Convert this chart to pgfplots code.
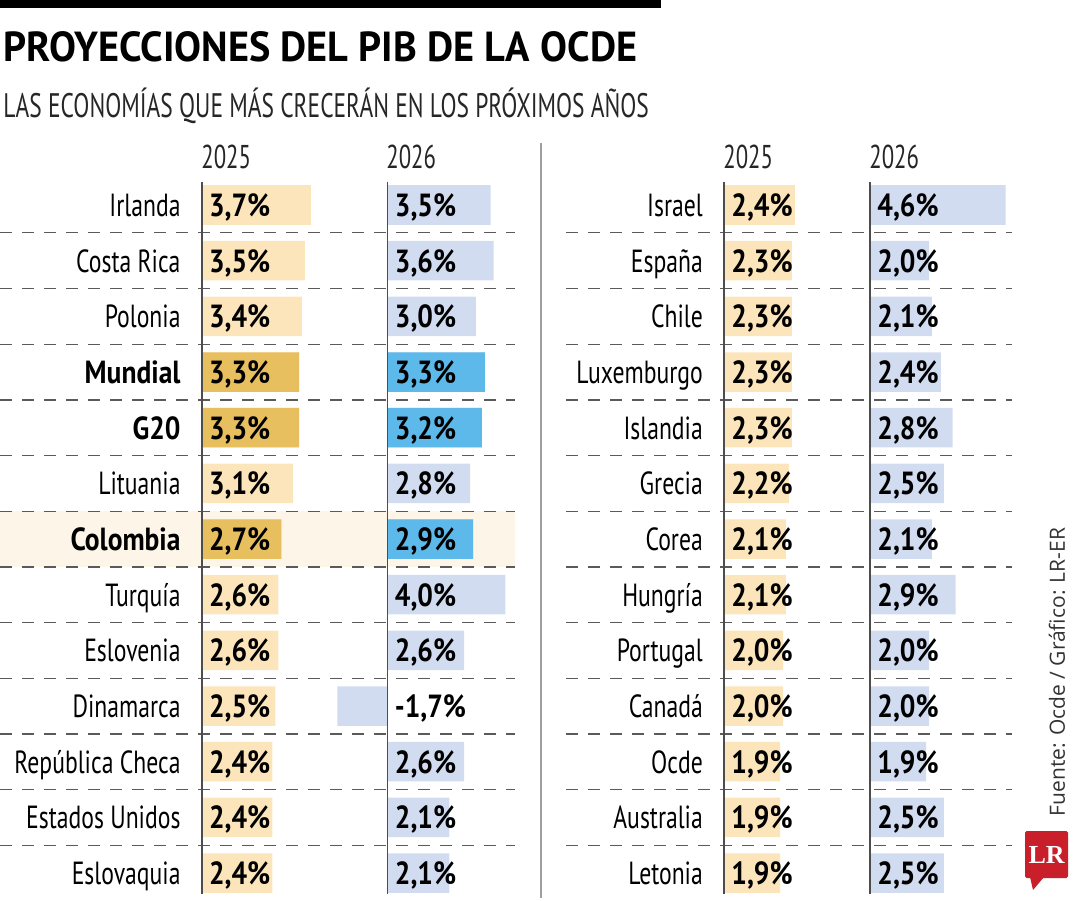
\documentclass[border=0pt]{standalone}
\usepackage{fontspec}
\setmainfont{PT Sans}
\newfontfamily\lblfont{PT Sans}[FakeStretch=0.74]
\newfontfamily\valfont{PT Sans}[FakeStretch=0.86]
\newfontfamily\titlefont{PT Sans}[FakeStretch=0.96]
\newfontfamily\subfont{PT Sans}[FakeStretch=0.69]
\newfontfamily\srcfont{Open Sans}
\newfontfamily\logofont{Liberation Serif}
\usepackage{pgfplots}
\pgfplotsset{compat=1.18}
\usepackage{pgfplotstable}

\definecolor{c25}{HTML}{FCE5BA}
\definecolor{c25h}{HTML}{E8BF5F}
\definecolor{c26}{HTML}{D2DCF0}
\definecolor{c26h}{HTML}{5CB9E9}
\definecolor{hl}{HTML}{FDF5E7}
\definecolor{lrred}{HTML}{C91F2B}
\definecolor{dashc}{HTML}{5A5A5A}
\definecolor{axc}{HTML}{4D4D4D}

\pgfplotstableread{
row v25 v26
0 3.7 3.5
1 3.5 3.6
2 3.4 3.0
3 3.3 3.3
4 3.3 3.2
5 3.1 2.8
6 2.7 2.9
7 2.6 4.0
8 2.6 2.6
9 2.5 -1.7
10 2.4 2.6
11 2.4 2.1
12 2.4 2.1
}\leftdata

\pgfplotstableread{
row v25 v26
0 2.4 4.6
1 2.3 2.0
2 2.3 2.1
3 2.3 2.4
4 2.3 2.8
5 2.2 2.5
6 2.1 2.1
7 2.1 2.9
8 2.0 2.0
9 2.0 2.0
10 1.9 1.9
11 1.9 2.5
12 1.9 2.5
}\rightdata

\newcommand\hb[1]{{\valfont\bfseries #1}}

\pgfplotsset{
  panel/.style={
    scale only axis, height=361.86pt, ymin=-0.5, ymax=12.5, y dir=reverse,
    axis line style={draw=none}, major tick length=0pt, clip=false,
    xtick=\empty, ytick=\empty, anchor=north west,
    yticklabel style={anchor=base east, inner sep=0pt, xshift=-10.4pt, yshift=-5.75pt,
      font=\lblfont\fontsize{16}{19}\selectfont},
    /pgf/number format/fixed, /pgf/number format/fixed zerofill,
    /pgf/number format/precision=1, /pgf/number format/use comma,
    /pgf/number format/assume math mode=true,
  },
  barp/.style={xbar, bar width=0.71, bar shift=0pt, draw=none},
  vals/.style={draw=none, mark=none, point meta=explicit,
    nodes near coords={\pgfmathprintnumber{\pgfplotspointmeta}\%},
    nodes near coords style={anchor=base west, inner sep=0pt, xshift=3.5pt, yshift=-5.75pt,
      font=\valfont\bfseries\fontsize{16}{19}\selectfont, text=black}},
}

\begin{document}
\begin{tikzpicture}
\path[use as bounding box] (0,0) rectangle (540pt,-450pt);
% header
\fill[black] (0,0) rectangle (330.5pt,-4.2pt);
\node[anchor=base west, inner sep=0pt, font=\titlefont\bfseries\fontsize{21}{25}\selectfont] at (1.5pt,-30.5pt) {PROYECCIONES DEL PIB DE LA OCDE};
\node[anchor=base west, inner sep=0pt, font=\subfont\fontsize{17}{20}\selectfont, text=black!85] at (1.5pt,-58.5pt) {LAS ECONOMÍAS QUE MÁS CRECERÁN EN LOS PRÓXIMOS AÑOS};
% highlight row
\fill[hl] (0,-255.6pt) rectangle (257.5pt,-283.4pt);
% dashed separators
\foreach \i in {0,...,11}{
  \pgfmathsetmacro\yy{-(102.5+27.835*(\i+0.5))}
  \draw[dashc, line width=0.65pt, dash pattern=on 6pt off 5pt] (0,\yy pt) -- (257.5pt,\yy pt);
  \draw[dashc, line width=0.65pt, dash pattern=on 6pt off 5pt] (283pt,\yy pt) -- (506pt,\yy pt);
}
% divider
\draw[gray!75, line width=1.2pt] (270.5pt,-71.5pt) -- (270.5pt,-449pt);
% year headers
\foreach \xx/\yr in {100.5/2025,193/2026,361.5/2025,434.5/2026}{
  \node[anchor=base west, inner sep=0pt, font=\subfont\fontsize{16.5}{19}\selectfont, text=black!85] at (\xx pt,-84pt) {\yr};
}

% left 2025
\begin{axis}[panel, at={(100.85pt,-88.58pt)}, width=59pt, xmin=0, xmax=4,
  ytick={0,...,12},
  yticklabels={Irlanda,Costa Rica,Polonia,\hb{Mundial},\hb{G20},Lituania,\hb{Colombia},Turquía,Eslovenia,Dinamarca,República Checa,Estados Unidos,Eslovaquia}]
\addplot[barp, fill=c25] table[x=v25, y=row] {\leftdata};
\addplot[barp, fill=c25h] coordinates {(3.3,3) (3.3,4) (2.7,6)};
\draw[axc, line width=0.9pt] (axis cs:0,-0.42) -- (axis cs:0,12.38);
\addplot[vals] table[x expr=0, y=row, meta=v25] {\leftdata};
\end{axis}

% left 2026
\begin{axis}[panel, at={(167.2pt,-88.58pt)}, width=88.5pt, xmin=-1.8, xmax=4.2]
\addplot[barp, fill=c26] table[x=v26, y=row] {\leftdata};
\addplot[barp, fill=c26h] coordinates {(3.3,3) (3.2,4) (2.9,6)};
\draw[axc, line width=0.9pt] (axis cs:0,-0.42) -- (axis cs:0,12.38);
\addplot[vals] table[x expr=0, y=row, meta=v26] {\leftdata};
\end{axis}

% right 2025
\begin{axis}[panel, at={(362pt,-88.58pt)}, width=38.35pt, xmin=0, xmax=2.6,
  ytick={0,...,12},
  yticklabels={Israel,España,Chile,Luxemburgo,Islandia,Grecia,Corea,Hungría,Portugal,Canadá,Ocde,Australia,Letonia}]
\addplot[barp, fill=c25] table[x=v25, y=row] {\rightdata};
\draw[axc, line width=0.9pt] (axis cs:0,-0.42) -- (axis cs:0,12.38);
\addplot[vals] table[x expr=0, y=row, meta=v25] {\rightdata};
\end{axis}

% right 2026
\begin{axis}[panel, at={(435pt,-88.58pt)}, width=70.8pt, xmin=0, xmax=4.8]
\addplot[barp, fill=c26] table[x=v26, y=row] {\rightdata};
\draw[axc, line width=0.9pt] (axis cs:0,-0.42) -- (axis cs:0,12.38);
\addplot[vals] table[x expr=0, y=row, meta=v26] {\rightdata};
\end{axis}

% source and logo
\node[rotate=90, inner sep=0pt, font=\srcfont\fontsize{10.5}{13}\selectfont, text=black!80] at (528.5pt,-336pt) {Fuente: Ocde / Gráfico: LR-ER};
\fill[lrred, rounded corners=0.8pt] (512.5pt,-415.5pt) rectangle (534pt,-439pt);
\fill[lrred] (515pt,-438.5pt) -- (522pt,-438.5pt) -- (516.5pt,-445pt) -- cycle;
\node[inner sep=0pt, text=white, font=\logofont\bfseries\fontsize{13}{15}\selectfont] at (523.3pt,-427.5pt) {LR};
\end{tikzpicture}
\end{document}
